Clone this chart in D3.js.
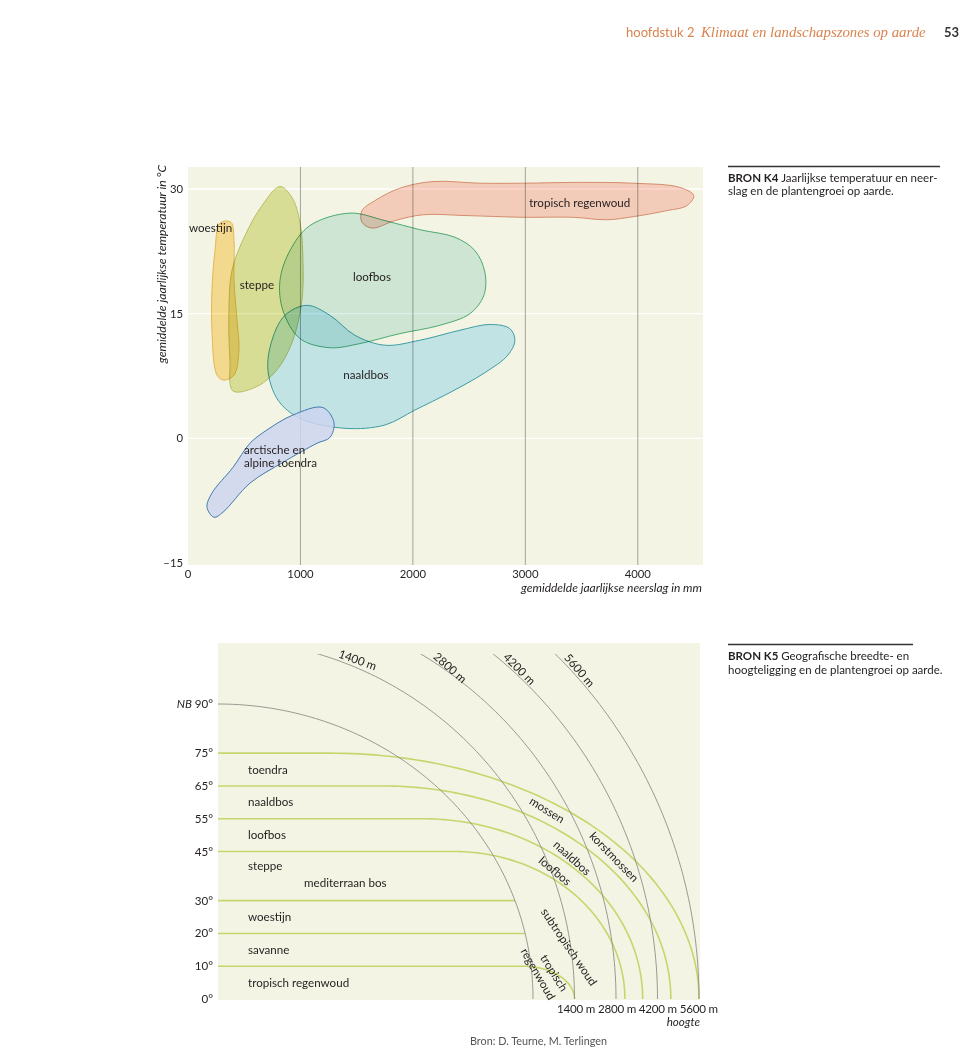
<!DOCTYPE html>
<html><head><meta charset="utf-8">
<script src="https://cdn.jsdelivr.net/npm/d3@7"></script>
<style>
body{margin:0;background:#fff;}
svg text{font-family:Lato,"Open Sans",sans-serif;fill:#231f20;}
</style></head><body>
<svg id="c" width="960" height="1049"></svg>
<script>
// ================= DATA : BRON K4 =================
const precipTicks = [0, 1000, 2000, 3000, 4000];
const tempTicks = [30, 15, 0, -15];
const tempGrid = [30, 15, 0];
// biome outlines: [precipitation mm, temperature °C]
const tropischRegenwoud = [[1547,27.4],[1662,28.6],[1884,30.1],[2178,30.9],[2596,30.7],[2978,30.7],[3484,30.8],[3956,30.7],[4373,30.2],[4498,29.2],[4436,28.0],[4258,27.4],[3973,26.7],[3724,26.3],[3422,26.6],[2978,26.6],[2480,26.8],[2089,26.9],[1840,26.2],[1636,25.3],[1547,26.0]];
const loofbos = [[1440,27.1],[1751,26.2],[2062,25.1],[2373,24.2],[2551,22.6],[2640,20.0],[2631,17.2],[2507,15.0],[2240,13.6],[1884,12.6],[1529,11.4],[1262,10.9],[996,12.0],[844,15.4],[818,19.0],[907,22.6],[1084,25.6]];
const naaldbos = [[1058,16.0],[1262,14.8],[1484,12.4],[1751,11.2],[2062,11.8],[2418,13.0],[2684,13.7],[2862,13.2],[2907,11.8],[2844,10.0],[2640,7.9],[2329,5.5],[2018,3.4],[1751,1.6],[1396,1.2],[996,2.4],[800,4.6],[711,8.2],[747,11.8],[862,14.8]];
const steppe = [[818,30.3],[924,29.0],[996,26.0],[1022,21.4],[1013,16.6],[933,11.8],[800,8.4],[622,6.3],[400,5.7],[373,9.4],[364,15.4],[391,20.2],[507,24.4],[658,28.0]];
const woestijn = [[284,25.9],[382,26.0],[409,23.8],[409,19.0],[436,14.2],[453,10.6],[409,7.6],[320,7.0],[258,7.6],[213,13.0],[213,17.8],[240,22.6]];
const toendra = [[1200,3.7],[1298,1.9],[1262,0.1],[1147,-0.6],[844,-2.9],[551,-5.4],[311,-8.9],[231,-9.5],[169,-8.3],[213,-6.6],[400,-3.5],[551,-0.6],[702,1.0],[933,2.8]];
const biomes = [
  {name:"tropisch regenwoud", pts:tropischRegenwoud, fill:"#ffd6cf", stroke:"#e0927a", blend:"multiply", op:1},
  {name:"loofbos", pts:loofbos, fill:"#d9f0ec", stroke:"#4fb07d", blend:"multiply", op:1},
  {name:"naaldbos", pts:naaldbos, fill:"#cceeff", stroke:"#3fa3b6", blend:"multiply", op:1},
  {name:"steppe", pts:steppe, fill:"#e3e7a8", stroke:"#c0c76a", blend:"multiply", op:1},
  {name:"woestijn", pts:woestijn, fill:"#ffe39f", stroke:"#efbf5c", blend:"multiply", op:1},
  {name:"toendra", pts:toendra, fill:"#cdd5f0", stroke:"#4479b0", blend:"normal", op:0.85}
];
// label anchors in data units
const biomeLabels = [
  {lines:["woestijn"], at:[9,24.8], anchor:"start"},
  {lines:["steppe"], at:[613,18.0], anchor:"middle"},
  {lines:["loofbos"], at:[1636,18.9], anchor:"middle"},
  {lines:["naaldbos"], at:[1582,7.1], anchor:"middle"},
  {lines:["tropisch regenwoud"], at:[3484,27.8], anchor:"middle"},
  {lines:["arctische en","alpine toendra"], at:[498,-1.9], anchor:"start"}
];

// ================= DATA : BRON K5 =================
const latTicks = [0, 10, 20, 30, 45, 55, 65, 75, 90];
const latBoundaries = [75, 65, 55, 45, 30, 20, 10];
const latBoundaryTopAlt = {75:5600, 65:4650, 55:3700, 45:3100, 10:1400}; // altitude reached by boundary
const altitudes = [0, 1400, 2800, 4200, 5600];
const latZones = [
  {name:"toendra", lat:70, indent:0},
  {name:"naaldbos", lat:60, indent:0},
  {name:"loofbos", lat:50, indent:0},
  {name:"steppe", lat:40.5, indent:0},
  {name:"mediterraan bos", lat:35.3, indent:1},
  {name:"woestijn", lat:25, indent:0},
  {name:"savanne", lat:15, indent:0},
  {name:"tropisch regenwoud", lat:5, indent:0}
];
const altZoneLabels = [
  {text:"mossen", cx:547, cy:810, rot:32},
  {text:"korstmossen", cx:614, cy:857, rot:46},
  {text:"naaldbos", cx:572, cy:858, rot:42},
  {text:"loofbos", cx:555, cy:871, rot:40},
  {text:"subtropisch woud", cx:569, cy:947, rot:56},
  {text:"tropisch", cx:554, cy:973, rot:58},
  {text:"regenwoud", cx:538, cy:974, rot:60}
];
const altLabelTilt = {1400:0, 2800:9, 4200:5, 5600:4};

// ================= DRAW =================
const svg = d3.select("#c");

// header
const hdr = svg.append("g");
hdr.append("text").attr("x",626).attr("y",37).style("font-size","13px").style("fill","#d9834f").text("hoofdstuk 2");
hdr.append("text").attr("x",701).attr("y",37).style("font-family","'Liberation Serif','DejaVu Serif',serif").style("font-style","italic").style("font-size","14.8px").style("fill","#d9834f").text("Klimaat en landschapszones op aarde");
hdr.append("text").attr("x",944).attr("y",37).style("font-size","13px").style("font-weight","bold").style("fill","#333").text("53");

// ---------- K4 chart ----------
const x = d3.scaleLinear().domain([0,4580]).range([188,703]);
const y = d3.scaleLinear().domain([-15.25,32.65]).range([565,167]);
const g1 = svg.append("g");
g1.append("rect").attr("x",x(0)).attr("y",y(32.65)).attr("width",x(4580)-x(0)).attr("height",y(-15.25)-y(32.65)).attr("fill","#f3f4e4");
g1.selectAll(".hg").data(tempGrid).join("line").attr("x1",x(0)).attr("x2",x(4580)).attr("y1",d=>y(d)).attr("y2",d=>y(d)).attr("stroke","#fff").attr("stroke-width",1.3);
g1.selectAll(".vg").data(precipTicks.filter(d=>d>0)).join("line").attr("x1",d=>x(d)).attr("x2",d=>x(d)).attr("y1",y(32.65)).attr("y2",y(-15.25)).attr("stroke","#a3a39b").attr("stroke-width",1);

const blob = d3.line().x(d=>x(d[0])).y(d=>y(d[1])).curve(d3.curveCatmullRomClosed.alpha(0.5));
g1.selectAll(".biome").data(biomes).join("path")
  .attr("d",d=>blob(d.pts)).attr("fill",d=>d.fill).attr("fill-opacity",d=>d.op).attr("stroke",d=>d.stroke).attr("stroke-width",1)
  .style("mix-blend-mode",d=>d.blend);

biomeLabels.forEach(l=>{
  const t = g1.append("text").attr("x",x(l.at[0])).attr("y",y(l.at[1])).attr("text-anchor",l.anchor).style("font-size","11.6px");
  l.lines.forEach((s,i)=>t.append("tspan").attr("x",x(l.at[0])).attr("dy",i?12.5:0).text(s));
});

// axes labels
g1.selectAll(".yt").data(tempTicks).join("text").attr("x",183).attr("y",d=>y(d)+4).attr("text-anchor","end").style("font-size","11.3px").text(d=>d<0?"\u2013"+Math.abs(d):d);
g1.selectAll(".xt").data(precipTicks).join("text").attr("x",d=>x(d)).attr("y",578).attr("text-anchor","middle").style("font-size","11.3px").text(d=>d);
g1.append("text").attr("x",702).attr("y",592).attr("text-anchor","end").style("font-style","italic").style("font-size","12px").text("gemiddelde jaarlijkse neerslag in mm");
g1.append("text").attr("transform","translate(166,264) rotate(-90)").attr("text-anchor","middle").style("font-style","italic").style("font-size","12.2px").text("gemiddelde jaarlijkse temperatuur in °C");

// caption K4
svg.append("line").attr("x1",728).attr("x2",940).attr("y1",166.5).attr("y2",166.5).attr("stroke","#333").attr("stroke-width",1.3);
const c4 = svg.append("text").attr("x",728).attr("y",182).style("font-size","11.5px");
c4.append("tspan").style("font-weight","bold").text("BRON K4 ");
c4.append("tspan").text("Jaarlijkse temperatuur en neer-");
svg.append("text").attr("x",728).attr("y",195).style("font-size","11.5px").text("slag en de plantengroei op aarde.");

// ---------- K5 chart ----------
const latY = d3.scaleLinear().domain([0,90]).range([999,704]);
const altX = d3.scaleLinear().domain([0,5600]).range([533,699]);
const xL = 218, xR = 700, yTop = 643, yB = latY(0);
const g2 = svg.append("g");
g2.append("rect").attr("x",xL).attr("y",yTop).attr("width",xR-xL).attr("height",yB-yTop+1).attr("fill","#f3f4e4");
const clip = svg.append("defs").append("clipPath").attr("id","k5clip");
clip.append("rect").attr("x",xL).attr("y",654).attr("width",xR-xL+1).attr("height",yB-654+1);

const rx0 = altX(0)-xL, ry0 = yB-latY(90);
function crossX(yy){ const t=(yB-yy)/ry0; return xL+rx0*Math.sqrt(Math.max(0,1-t*t)); }
function ellipsePts(cx,cy,rx,ry,n){ return d3.range(n+1).map(i=>{const t=i/n*Math.PI/2; return [cx+rx*Math.sin(t), cy-ry*Math.cos(t)];}); }
const ln = d3.line();

// latitude boundaries (green)
g2.append("g").attr("clip-path","url(#k5clip)").selectAll("path").data(latBoundaries).join("path")
  .attr("d",L=>{
    const yy = latY(L);
    const end = latBoundaryTopAlt[L];
    if(end===undefined) return ln([[xL,yy],[crossX(yy),yy]]);
    const ry = yB-yy;
    const bend = crossX(yy) - 0.25*ry;
    return ln([[xL,yy]].concat(ellipsePts(bend,yB,altX(end)-bend,ry,80)));
  })
  .attr("fill","none").attr("stroke","#c7d66c").attr("stroke-width",1.6);

// altitude arcs (gray)
function altArc(h){ const rx=altX(h)-xL; const ry = h===0 ? ry0 : rx+3; return {rx,ry}; }
g2.append("g").attr("clip-path","url(#k5clip)").selectAll("path").data(altitudes).join("path")
  .attr("d",h=>{const a=altArc(h); return ln(ellipsePts(xL,yB,a.rx,a.ry,120));})
  .attr("fill","none").attr("stroke","#8f8f88").attr("stroke-width",0.9);

// altitude labels at top of arcs
altitudes.filter(h=>h>0).forEach(h=>{
  const a=altArc(h); const yy=660; const c=(yB-yy)/a.ry; const s=Math.sqrt(1-c*c);
  const px=xL+a.rx*s; const ang=Math.atan2(a.ry*s, a.rx*c)*180/Math.PI + altLabelTilt[h];
  g2.append("text").attr("transform",`translate(${px},${yy}) rotate(${ang}) translate(0,-3)`).style("font-size","11.6px").text(h+" m");
});

// latitude tick labels
g2.selectAll(".lt").data(latTicks).join("text").attr("x",213).attr("y",d=>latY(d)+4).attr("text-anchor","end").style("font-size","11.6px").text(d=>d+"°");
g2.append("text").attr("x",192).attr("y",latY(90)+4).attr("text-anchor","end").style("font-size","11.6px").style("font-style","italic").text("NB");

// zone labels
g2.selectAll(".zl").data(latZones).join("text").attr("x",d=>d.indent?304:248).attr("y",d=>latY(d.lat)+4).style("font-size","11.6px").text(d=>d.name);
altZoneLabels.forEach(l=>{
  g2.append("text").attr("transform",`translate(${l.cx},${l.cy}) rotate(${l.rot})`).attr("text-anchor","middle").attr("dy","0.35em").style("font-size","11.6px").text(l.text);
});

// altitude axis
g2.append("text").attr("x",557).attr("y",1013).attr("textLength",161).style("font-size","11.6px").text(altitudes.filter(h=>h>0).map(h=>h+" m").join(" "));
g2.append("text").attr("x",700).attr("y",1026).attr("text-anchor","end").style("font-size","11.6px").style("font-style","italic").text("hoogte");

// caption K5
svg.append("line").attr("x1",728).attr("x2",913).attr("y1",644.5).attr("y2",644.5).attr("stroke","#333").attr("stroke-width",1.3);
const c5 = svg.append("text").attr("x",728).attr("y",660).style("font-size","11.5px");
c5.append("tspan").style("font-weight","bold").text("BRON K5 ");
c5.append("tspan").text("Geografische breedte- en");
svg.append("text").attr("x",728).attr("y",674).style("font-size","11.5px").text("hoogteligging en de plantengroei op aarde.");

// source
svg.append("text").attr("x",470).attr("y",1045).style("font-size","10.8px").style("fill","#555").text("Bron: D. Teurne, M. Terlingen");
</script>
</body></html>
